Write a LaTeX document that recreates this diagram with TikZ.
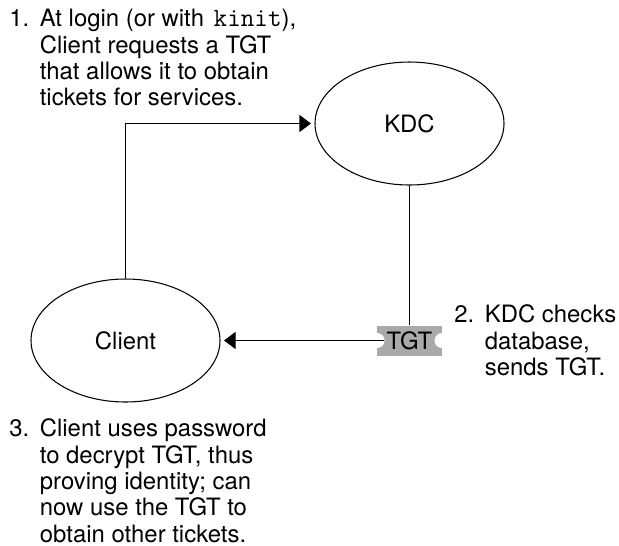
\documentclass[tikz,border=0pt]{standalone}
\usepackage{fontspec}
\setmainfont{TeX Gyre Heros}
\usepackage{tikz}
\usetikzlibrary{positioning, shapes.geometric, arrows.meta}
\definecolor{ticketgray}{HTML}{A9A9A9}
\newcommand{\stepnum}[1]{\makebox[0.61cm][l]{#1}}
\newcommand{\stepin}{\hspace*{0.61cm}}
\tikzset{
  party/.style={draw, ellipse, inner sep=0pt, line width=0.6pt, minimum width=3.78cm, minimum height=2.46cm, font=\fontsize{13.6}{15}\selectfont},
  note/.style={anchor=north west, align=left, inner sep=0pt, font=\fontsize{13.6}{15}\selectfont},
  link/.style={line width=0.6pt},
  flow/.style={link, -{Triangle[length=0.23cm, width=0.34cm]}, shorten >=0.07cm},
  ticket/.style={fill=ticketgray, minimum width=1.3cm, minimum height=0.6cm, inner sep=0pt, font=\fontsize{13.6}{15}\selectfont,
    path picture={
      \fill[white] (path picture bounding box.west) circle (0.15);
      \fill[white] (path picture bounding box.east) circle (0.15);
    }},
}
\begin{document}
\begin{tikzpicture}
  \useasboundingbox (0,0) rectangle (12.38,-10.9);
  % Parties
  \node[party] (kdc) at (8.19,-2.47) {KDC};
  \node[party] (client) at (2.51,-6.81) {Client};
  \node[ticket] (tgt) at (8.19,-6.81) {TGT};
  % Exchange
  \coordinate (notch) at ([xshift=0.15cm]tgt.west);
  \draw[flow] (client.north) |- (kdc.west);
  \draw[link] (kdc.south) -- (tgt.north);
  \draw[flow] (notch) -- (client.east);
  % Steps
  \node[note] (step1) at (0.18,-0.18) {\stepnum{1.}At login (or with\hspace{0.06cm} {\ttfamily\fontsize{15}{15}\selectfont kinit}),\\
    \stepin Client requests a TGT\\
    \stepin that allows it to obtain\\
    \stepin tickets for services.};
  \node[note] (step2) at (9.08,-6.09) {\stepnum{2.}KDC checks\\
    \stepin database,\\
    \stepin sends TGT.};
  \node[note] (step3) at (0.18,-8.37) {\stepnum{3.}Client uses password\\
    \stepin to decrypt TGT, thus\\
    \stepin proving identity; can\\
    \stepin now use the TGT to\\
    \stepin obtain other tickets.};
\end{tikzpicture}
\end{document}
